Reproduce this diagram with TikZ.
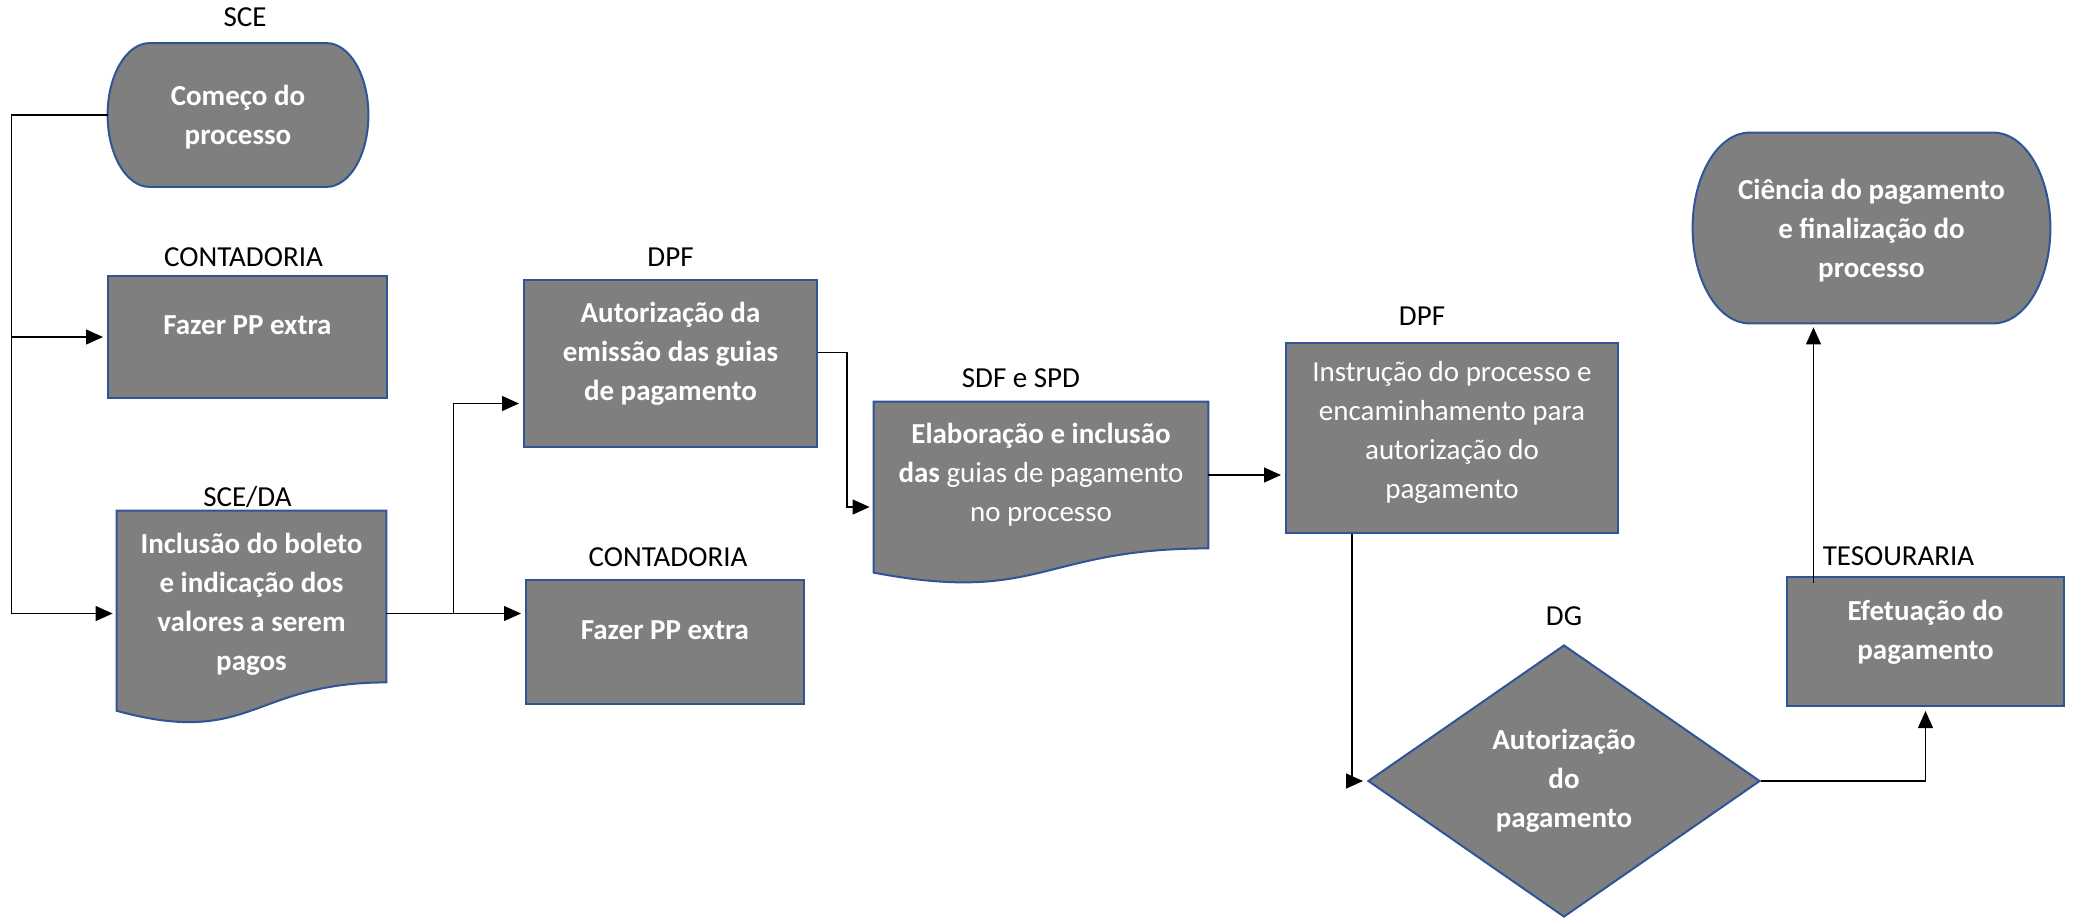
\documentclass[tikz,border=0pt]{standalone}
\usepackage{fontspec}
\setmainfont{Carlito}
\usetikzlibrary{shapes.geometric, arrows.meta, positioning, calc, backgrounds}

\definecolor{boxgray}{HTML}{7F7F7F}
\definecolor{boxblue}{HTML}{2F5597}
\newcommand{\boxfont}{\fontsize{14.5pt}{19.5pt}\selectfont}

\tikzstyle{terminal} = [
    rectangle,
    inner sep=0pt,
    align=center,
    text=white,
    font=\boxfont\bfseries
]
\tikzstyle{process} = [
    rectangle,
    inner sep=0pt,
    align=center,
    text depth=12pt,
    fill=boxgray,
    draw=boxblue,
    line width=1pt,
    text=white,
    font=\boxfont\bfseries
]
\tikzstyle{doc} = [
    rectangle,
    inner sep=0pt,
    align=center,
    text=white,
    font=\boxfont\bfseries
]
\tikzstyle{decision} = [
    diamond,
    inner sep=0pt,
    align=center,
    fill=boxgray,
    draw=boxblue,
    line width=1pt,
    text=white,
    font=\boxfont\bfseries
]
\tikzstyle{dept} = [
    inner sep=0pt,
    text depth=0pt,
    font=\boxfont
]
\tikzstyle{shapeline} = [fill=boxgray, draw=boxblue, line width=1pt]
\tikzstyle{arrow} = [line width=0.6pt, -{Triangle[length=8.5pt,width=7.5pt]}, shorten >=2pt]

% stadium outline round a node (#2 = cap radius)
\newcommand{\terminalshape}[2]{%
  \path[shapeline] let \p1=(#1.north west), \p2=(#1.south east) in
    ({\x1+#2},\y1) -- ({\x2-#2},\y1)
    arc[start angle=90, end angle=-90, x radius=#2, y radius={(\y1-\y2)/2}]
    -- ({\x1+#2},\y2)
    arc[start angle=270, end angle=90, x radius=#2, y radius={(\y1-\y2)/2}]
    -- cycle;}
% document outline: wavy edge below the node
\newcommand{\docshape}[1]{%
  \path[shapeline] let \p1=(#1.north west), \p2=(#1.south east),
    \n1={\y1-\y2} in
    (\p1) -- (\x2,\y1) -- (\p2)
    .. controls ({(\x1+\x2)/2},\y2) and ({(\x1+\x2)/2},{\y2-0.381*\n1}) ..
    (\x1,{\y2-0.165*\n1}) -- cycle;}

\begin{document}
\begin{tikzpicture}[x=0.5pt, y=-0.5pt]

\useasboundingbox (0,0) rectangle (2074,918);

\node (inicio) [terminal, text depth=0pt, minimum width=130pt, minimum height=71.5pt] at (238,115)
{Começo do\\processo};

\node (ppextra) [process, minimum width=139.5pt, minimum height=61pt] at (247.5,337)
{Fazer PP extra};

\node (boleto) [doc, text height=76pt, minimum width=134.5pt, minimum height=85.5pt] at (251.5,596.5)
{Inclusão do boleto\\e indicação dos\\valores a serem\\pagos};

\node (emissao) [process, minimum width=146.5pt, minimum height=83.5pt] at (670.5,363.5)
{Autorização da\\emissão das guias\\de pagamento};

\node (ppextra2) [process, minimum width=139pt, minimum height=62pt] at (665,642)
{Fazer PP extra};

\node (guias) [doc, font=\boxfont, minimum width=167pt, minimum height=73pt] at (1041,475)
{\textbf{Elaboração e inclusão}\\\textbf{das} guias de pagamento\\no processo};

\node (instrucao) [process, font=\boxfont, text depth=8pt, minimum width=166pt, minimum height=95pt] at (1452,438)
{Instrução do processo e\\encaminhamento para\\autorização do\\pagamento};

\node (autpag) [decision, minimum width=196pt, minimum height=136pt] at (1564,781)
{Autorização\\do\\pagamento};

\node (efetuacao) [process, minimum width=138.5pt, minimum height=64.5pt] at (1925.5,641.5)
{Efetuação do\\pagamento};

\node (ciencia) [terminal, text depth=0pt, minimum width=178.5pt, minimum height=95pt] at (1871.5,228)
{Ciência do pagamento\\e finalização do\\processo};

\begin{pgfonlayer}{background}
\terminalshape{inicio}{21pt}
\terminalshape{ciencia}{28.5pt}
\docshape{boleto}
\docshape{guias}
\end{pgfonlayer}

\node [dept, above=8pt of inicio, xshift=3.5pt] {SCE};
\node [dept, above=4pt of ppextra, xshift=-2pt] {CONTADORIA};
\node [dept, above=2pt of boleto, xshift=-2pt] {SCE/DA};
\node [dept, above=6pt of emissao] {DPF};
\node [dept, above=6pt of ppextra2, xshift=1.5pt] {CONTADORIA};
\node [dept, above=7pt of guias, xshift=-10pt] {SDF e SPD};
\node [dept, above=8pt of instrucao, xshift=-15pt] {DPF};
\node [dept, above=9pt of autpag] {DG};
\node [dept, above=5pt of efetuacao, xshift=-13.5pt] {TESOURARIA};

\draw [arrow] (inicio.west) -- ++(-96,0) |- (ppextra.west);
\draw [arrow] (inicio.west) -- ++(-96,0) |- ([yshift=-8.5pt]boleto.west);
\draw [arrow] ([yshift=-8.5pt]boleto.east) -- ++(67,0) coordinate (fork)
    |- ([yshift=-20pt]emissao.west);
\draw [arrow] (fork) -- (fork -| ppextra2.west);
\draw [arrow] ([yshift=5.5pt]emissao.east) -- ++(29,0) |- ([yshift=-16pt]guias.west);
\draw [arrow] (guias.east) -- (guias.east -| instrucao.west);
\draw [arrow] ([xshift=-50pt]instrucao.south) |- (autpag.west);
\draw [arrow] (autpag.east) -| (efetuacao.south);
\draw [arrow] ([xshift=-56pt,yshift=-3.5pt]efetuacao.north) coordinate (subida)
    -- (subida |- ciencia.south);

\end{tikzpicture}
\end{document}
